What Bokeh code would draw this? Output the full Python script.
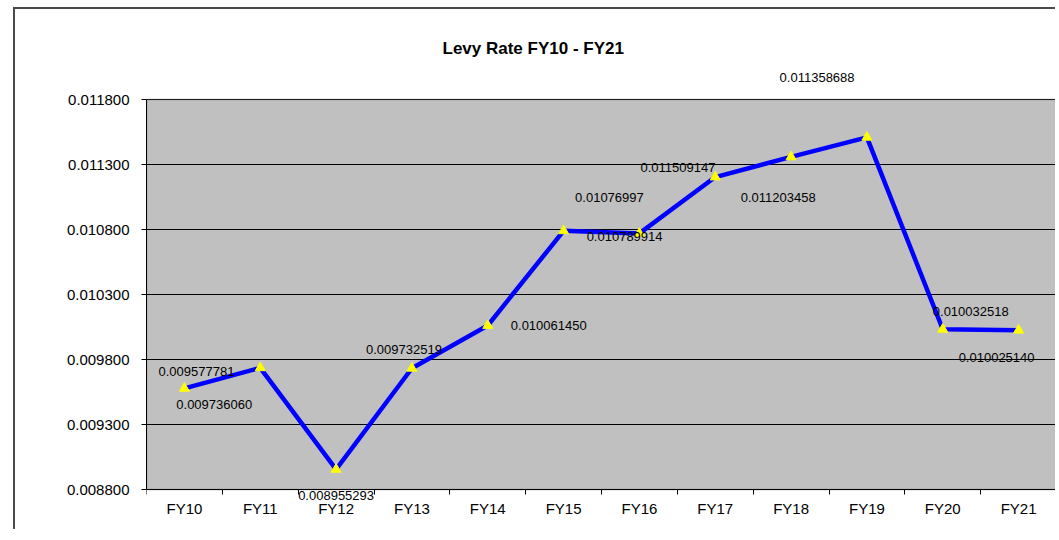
from bokeh.plotting import figure
from bokeh.models import (ColumnDataSource, Range1d, FixedTicker, Label,
                          PrintfTickFormatter, BoxAnnotation)
from bokeh.embed import file_html
from bokeh.resources import INLINE

# ---- data ----
categories = ["FY10", "FY11", "FY12", "FY13", "FY14", "FY15",
              "FY16", "FY17", "FY18", "FY19", "FY20", "FY21"]
levy_rate = [0.009577781, 0.009736060, 0.008955293, 0.009732519,
             0.010061450, 0.010789914, 0.01076997, 0.011203458,
             0.011358688, 0.011509147, 0.010032518, 0.010025140]
value_labels = ["0.009577781", "0.009736060", "0.008955293", "0.009732519",
                "0.010061450", "0.010789914", "0.01076997", "0.011203458",
                "0.011358688", "0.011509147", "0.010032518", "0.010025140"]
y_ticks = [0.0088, 0.0093, 0.0098, 0.0103, 0.0108, 0.0113, 0.0118]
title_text = "Levy Rate FY10 - FY21"

# label placement (screen px; right / down), as in the original chart
label_dx = [12, -46, 0, -8, 61, 61, -30, 63, 26, -189, 28, -22]
label_dy = [-17, 37, 26, -19, 0, 6, -36, 20, -79, 30, -18, 27]

FONT = "Liberation Sans"

# geometry: the grey plot area is 390 px tall; the frame is padded above and
# below so the data labels / category labels outside it are not clipped
AREA_PX = 390.0
PAD_TOP_PX = 37.0
PAD_BOTTOM_PX = 42.0
y_lo, y_hi = y_ticks[0], y_ticks[-1]
units_per_px = (y_hi - y_lo) / AREA_PX

xs = [i + 0.5 for i in range(len(categories))]
src = ColumnDataSource(dict(x=xs, y=levy_rate))

p = figure(width=1042, height=522, output_backend="svg", toolbar_location=None,
           x_range=Range1d(0, len(categories)),
           y_range=Range1d(y_lo - PAD_BOTTOM_PX * units_per_px,
                           y_hi + PAD_TOP_PX * units_per_px),
           min_border_left=131, min_border_right=1,
           min_border_top=53, min_border_bottom=0)
p.styles = {"margin-left": "13px", "margin-top": "7px",
            "border-left": "2px solid #4a4a4a",
            "border-top": "2px solid #4a4a4a"}

p.title.text = title_text
p.title.text_font = FONT
p.title.text_font_size = "17px"
p.title.text_font_style = "bold"
p.title.text_color = "black"
p.title.align = "left"
p.title.offset = 296

p.background_fill_color = "white"
p.border_fill_color = "white"
p.outline_line_color = None

# grey plot area
p.add_layout(BoxAnnotation(left=0, right=len(categories), bottom=y_lo, top=y_hi,
                           fill_color="#C0C0C0", fill_alpha=1.0,
                           line_color=None, level="image"))

p.xgrid.grid_line_color = None
p.ygrid.grid_line_color = "black"
p.ygrid.grid_line_width = 1
p.ygrid.ticker = FixedTicker(ticks=y_ticks)

# plot-area border (drawn above the grid lines)
p.add_layout(BoxAnnotation(left=0, right=len(categories), bottom=y_lo, top=y_hi,
                           fill_alpha=0.0, line_color="#707070", line_width=2,
                           level="underlay"))

# y axis
p.yaxis.ticker = FixedTicker(ticks=y_ticks)
p.yaxis.bounds = (y_lo, y_hi)
p.yaxis.formatter = PrintfTickFormatter(format="%.6f")
p.yaxis.major_tick_out = 5
p.yaxis.major_tick_in = 0
p.yaxis.minor_tick_line_color = None
p.yaxis.axis_line_color = "black"
p.yaxis.major_tick_line_color = "black"
p.yaxis.major_label_text_font = FONT
p.yaxis.major_label_text_font_size = "15px"
p.yaxis.major_label_text_color = "black"
p.yaxis.major_label_standoff = 12

# x axis at the bottom of the grey area: labels at category centres,
# tick marks at category boundaries
p.xaxis.fixed_location = y_lo
p.xaxis.ticker = FixedTicker(ticks=xs, minor_ticks=list(range(len(categories) + 1)))
p.xaxis.major_label_overrides = {x: c for x, c in zip(xs, categories)}
p.xaxis.major_tick_line_color = None
p.xaxis.minor_tick_line_color = "black"
p.xaxis.minor_tick_out = 5
p.xaxis.minor_tick_in = 0
p.xaxis.axis_line_color = "black"
p.xaxis.major_label_text_font = FONT
p.xaxis.major_label_text_font_size = "15px"
p.xaxis.major_label_text_color = "black"
p.xaxis.major_label_standoff = 4

p.line("x", "y", source=src, line_color="#0000FF", line_width=4.5)
p.scatter("x", "y", source=src, marker="triangle", size=10,
          fill_color="#FFFF00", line_color="#FFFF00")

for x, y, t, dx, dy in zip(xs, levy_rate, value_labels, label_dx, label_dy):
    p.add_layout(Label(x=x, y=y, text=t, x_offset=dx, y_offset=-dy,
                       text_align="center", text_baseline="middle",
                       text_font=FONT, text_font_size="13px",
                       text_color="black"))

open("out.html", "w").write(file_html(p, INLINE))
